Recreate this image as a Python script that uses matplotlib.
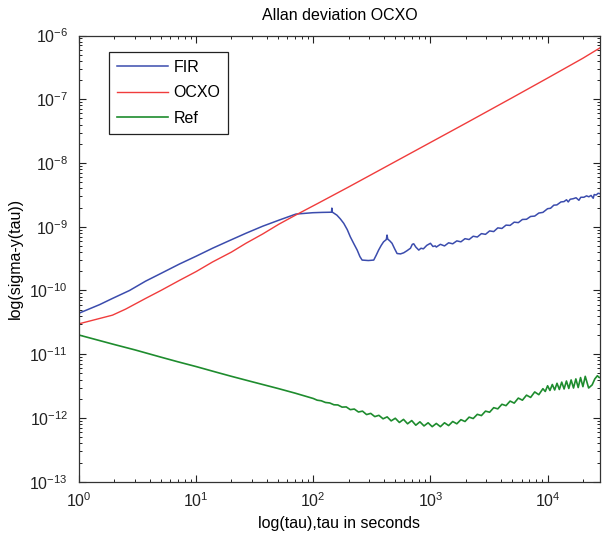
import matplotlib
matplotlib.use("Agg")
import matplotlib.pyplot as plt
from matplotlib.ticker import LogLocator, NullFormatter

plt.rcParams['font.family'] = ['Liberation Sans', 'DejaVu Sans']
plt.rcParams['mathtext.fontset'] = 'custom'
plt.rcParams['mathtext.rm'] = 'Liberation Sans'
plt.rcParams['mathtext.it'] = 'Liberation Sans:italic'
plt.rcParams['mathtext.bf'] = 'Liberation Sans:bold'

# FIR (blue)
tau_fir = [1, 1.5, 1.93, 2.7, 3.7, 5, 7.2, 10, 13.8, 19, 26.6, 37, 51, 71, 99,
           120, 143, 144, 145, 159, 170, 182, 195, 207, 222, 237, 250, 261, 295,
           328, 345, 361, 380, 398, 420, 426, 432, 450, 470, 495, 519, 555, 591,
           630, 675, 700, 720, 750, 795, 830, 870, 930, 1000, 1050, 1100,
           1122, 1216, 1318, 1429, 1549, 1679, 1820, 1972, 2138, 2317, 2512,
           2723, 2951, 3199, 3467, 3758, 4074, 4416, 4786, 5188, 5623, 6095,
           6607, 7161, 7762, 8414, 9120, 10000, 10600, 11300, 12000, 13000,
           13800, 14500, 15000, 15600, 16500, 17500, 18500, 19200, 20400,
           21500, 22500, 23500, 24500, 25000, 26000, 27000, 28000]
sig_fir = [0.44, 0.60, 0.75, 1.0, 1.4, 1.85, 2.6, 3.45, 4.6, 6.0, 7.9, 10.2, 12.7,
           15.8, 16.6, 16.8, 16.9, 19.6, 17.0, 15.2, 13.3, 11.3, 9.0, 6.95, 5.4,
           4.3, 3.4, 3.0, 2.95, 3.0, 3.6, 4.3, 5.1, 5.8, 6.3, 7.4, 6.4, 6.0, 5.5,
           4.5, 3.8, 3.75, 3.9, 4.2, 4.6, 5.3, 5.4, 4.8, 4.3, 4.6, 4.5, 5.1, 5.5,
           4.9, 5.0, 4.8, 5.3, 5.0, 5.6, 5.4, 6.0, 5.8, 6.5, 6.3, 7.1, 6.9, 7.8,
           7.6, 8.6, 8.4, 9.6, 9.4, 10.6, 10.5, 11.8, 11.6, 13.0, 13.1, 14.5,
           14.7, 16.4, 16.8, 19.2, 19.5, 21.8, 22.0, 24.5, 24.8, 26.5, 24.5,
           27.0, 27.5, 28.5, 26.0, 29.0, 29.0, 30.5, 29.5, 31.0, 28.0, 32.0,
           31.5, 33.5, 33.0]
sig_fir = [v * 1e-10 for v in sig_fir]

# OCXO (red)
tau_ocxo = [1, 1.3, 1.93, 2.5, 3.7, 5, 7.2, 10, 13.8, 20, 26.6, 37, 51, 71, 113,
            200, 500, 1000, 2000, 5000, 10000, 20000, 28000]
sig_ocxo = [0.30, 0.34, 0.41, 0.51, 0.75, 1.0, 1.44, 1.98, 2.8, 4.0, 5.5, 7.7,
            11.0, 15.3, 24, 42, 105, 210, 420, 1060, 2150, 4400, 6400]
sig_ocxo = [v * 1e-10 for v in sig_ocxo]

# Ref (green)
tau_ref = [1, 2, 3, 5, 7, 10, 15, 20, 30, 50, 70,
           100, 108, 117, 127, 138, 150, 162, 176, 191, 207, 224, 243, 263,
           285, 309, 335, 363, 394, 427, 462, 501, 543, 589, 638, 692, 750,
           813, 881, 955, 1035, 1122, 1216, 1318, 1429, 1549, 1679, 1820, 1972,
           2138, 2317, 2512, 2723, 2951, 3199, 3467, 3758, 4074, 4416, 4786,
           5188, 5623, 6095, 6607, 7161, 7762, 8414, 9120,
           9550, 10000, 10470, 10970, 11490, 12030, 12600, 13200, 13830, 14480,
           15170, 15880, 16640, 17420, 18250, 19110, 20020, 20960, 22400,
           24000, 25300, 26600, 27400, 28000]
sig_ref = [20.0, 14.2, 11.7, 9.0, 7.6, 6.4, 5.2, 4.5, 3.7, 2.9, 2.45,
           2.02, 1.90, 1.86, 1.75, 1.72, 1.61, 1.60, 1.48, 1.49, 1.35, 1.38,
           1.24, 1.28, 1.13, 1.18, 1.05, 1.10, 0.97, 1.04, 0.90, 0.99, 0.85,
           0.95, 0.81, 0.91, 0.77, 0.87, 0.75, 0.84, 0.73, 0.82, 0.73, 0.84,
           0.76, 0.88, 0.81, 0.94, 0.88, 1.03, 0.98, 1.14, 1.09, 1.28, 1.23,
           1.45, 1.39, 1.64, 1.56, 1.84, 1.71, 2.05, 1.90, 2.28, 2.10, 2.56,
           2.32, 2.88,
           2.60, 3.20, 2.70, 3.35, 2.75, 3.50, 2.80, 3.65, 2.85, 3.80, 2.90,
           3.95, 2.95, 4.10, 3.00, 4.30, 3.10, 4.50, 2.95,
           3.30, 4.10, 4.60, 4.35, 4.30]
sig_ref = [v * 1e-12 for v in sig_ref]

fig = plt.figure(figsize=(6.03, 5.39), dpi=100)
ax = fig.add_axes([0.1310, 0.1063, 0.8640, 0.8278])

ax.loglog(tau_fir, sig_fir, color='#3b4cad', lw=1.1, label='FIR')
ax.loglog(tau_ocxo, sig_ocxo, color='#f03c3c', lw=1.0, label='OCXO')
ax.loglog(tau_ref, sig_ref, color='#1e8c2e', lw=1.2, label='Ref')

ax.set_xlim(1, 2.8e4)
ax.set_ylim(1e-13, 1e-6)

ax.xaxis.set_major_locator(LogLocator(base=10, numticks=10))
ax.yaxis.set_major_locator(LogLocator(base=10, numticks=10))
ax.xaxis.set_minor_locator(LogLocator(base=10, subs=range(2, 10), numticks=20))
ax.yaxis.set_minor_locator(LogLocator(base=10, subs=range(2, 10), numticks=20))
ax.xaxis.set_minor_formatter(NullFormatter())
ax.yaxis.set_minor_formatter(NullFormatter())

ax.tick_params(which='both', direction='in', top=True, right=True,
               labelsize=11.5, colors='#222222')
ax.tick_params(which='major', length=5, width=0.8)
ax.tick_params(which='minor', length=2.5, width=0.7)
ax.tick_params(axis='y', pad=8)
ax.tick_params(axis='x', pad=7)
for s in ax.spines.values():
    s.set_color('#333333')
    s.set_linewidth(0.9)

ax.set_title('Allan deviation OCXO', fontsize=11.5, pad=11)
ax.set_xlabel('log(tau),tau in seconds', fontsize=11.5, labelpad=4)
ax.set_ylabel('log(sigma-y(tau))', fontsize=11.5, labelpad=5)

leg = ax.legend(loc='upper left', bbox_to_anchor=(0.057, 0.963), fontsize=11.5,
                fancybox=False, framealpha=1, edgecolor='#222222',
                handlelength=3.2, handletextpad=0.35, labelspacing=0.65,
                borderpad=0.5, borderaxespad=0)
leg.get_frame().set_linewidth(0.9)

fig.savefig('out.png', dpi=100)
